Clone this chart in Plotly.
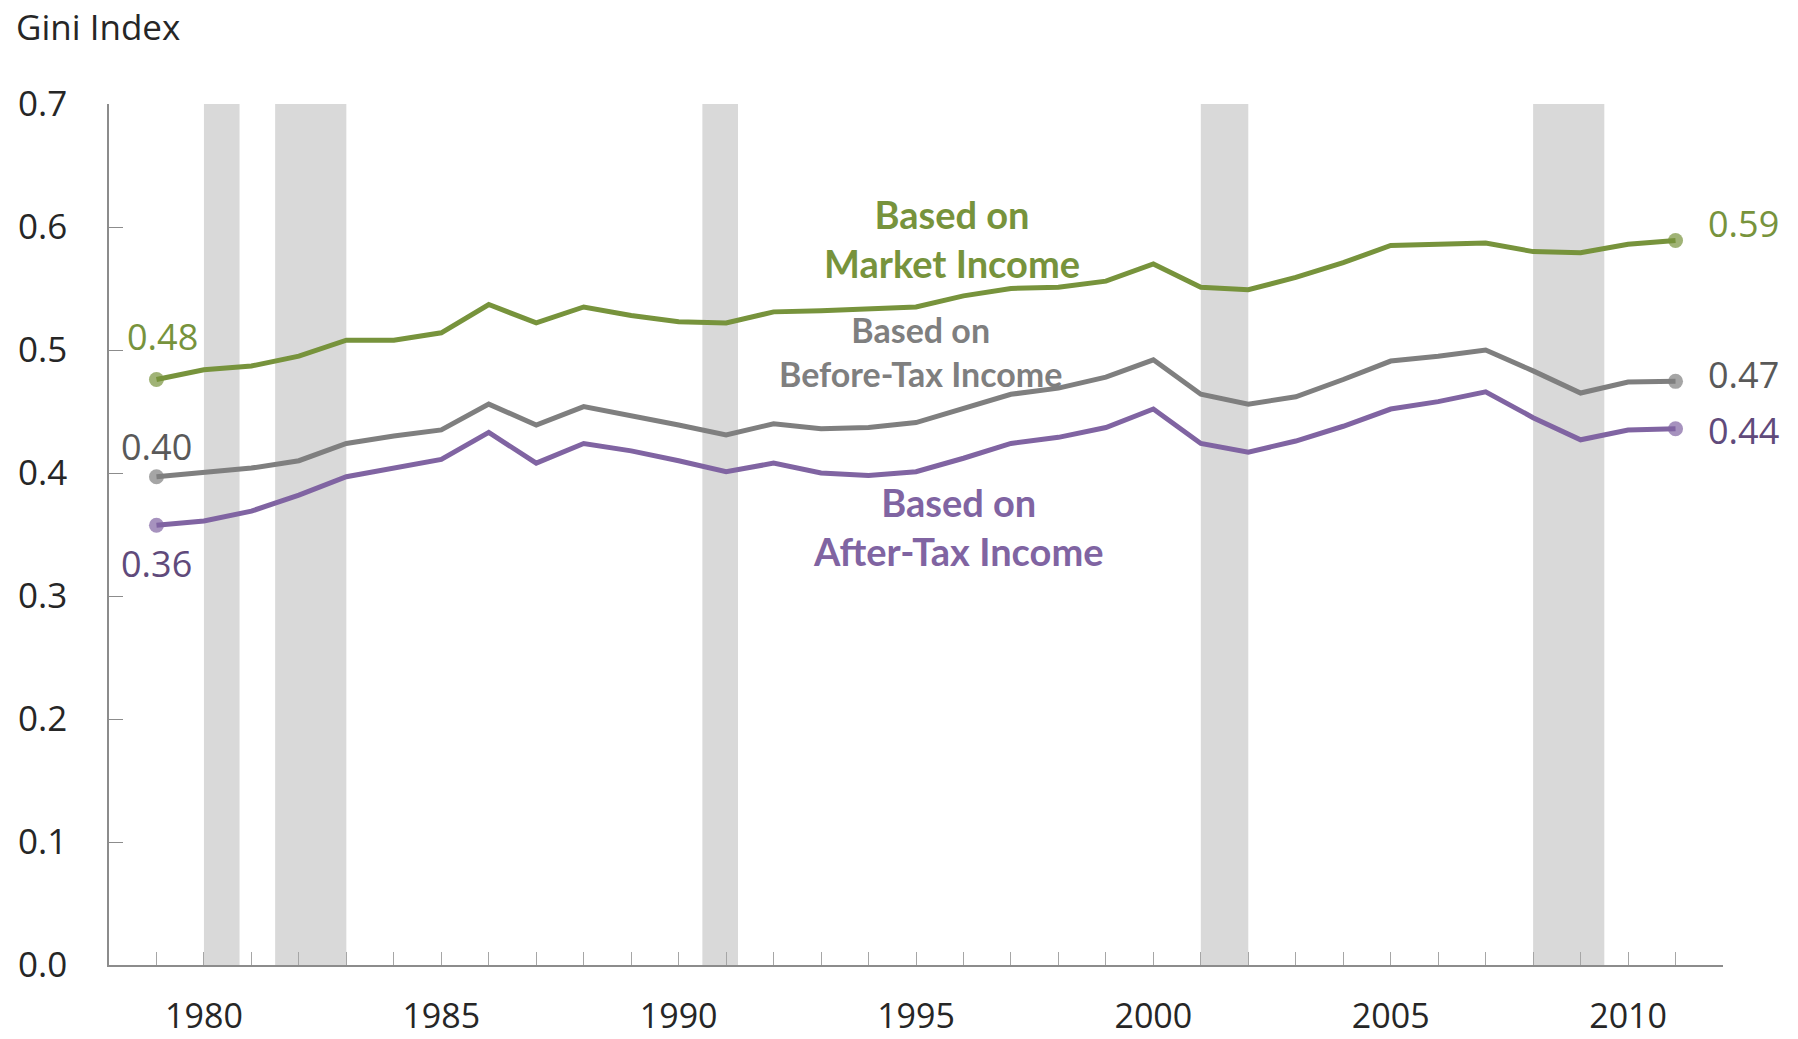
import plotly.graph_objects as go

years = list(range(1979, 2012))

market = [0.476, 0.484, 0.487, 0.495, 0.508, 0.508, 0.514, 0.537, 0.522, 0.535, 0.528, 0.523,
          0.522, 0.531, 0.532, 0.534, 0.535, 0.544, 0.550, 0.551, 0.556, 0.570,
          0.551, 0.549, 0.559, 0.571, 0.585, 0.586, 0.587, 0.580, 0.579, 0.586, 0.589]
before_tax = [0.397, 0.401, 0.404, 0.410, 0.424, 0.430, 0.435, 0.456, 0.439, 0.454, 0.447, 0.439,
              0.431, 0.440, 0.436, 0.437, 0.441, 0.453, 0.464, 0.469, 0.478, 0.492,
              0.464, 0.456, 0.462, 0.476, 0.491, 0.495, 0.500, 0.483, 0.465, 0.474, 0.4745]
after_tax = [0.3575, 0.361, 0.369, 0.382, 0.397, 0.404, 0.411, 0.433, 0.408, 0.424, 0.418, 0.410,
             0.401, 0.408, 0.400, 0.398, 0.401, 0.412, 0.424, 0.429, 0.437, 0.452,
             0.424, 0.417, 0.426, 0.438, 0.452, 0.458, 0.466, 0.445, 0.427, 0.435, 0.436]

recession_start = [1980.0, 1981.5, 1990.5, 2001.0, 2008.0]
recession_end = [1980.75, 1983.0, 1991.25, 2002.0, 2009.5]

x_tick_years = list(range(1978, 2013))
x_tick_text = [str(y) if y % 5 == 0 else "" for y in x_tick_years]
y_tick_vals = [0.0, 0.1, 0.2, 0.3, 0.4, 0.5, 0.6, 0.7]
y_tick_text = ["0.0", "0.1", "0.2", "0.3", "0.4", "0.5", "0.6", "0.7"]

GREEN = "#77933C"
GRAY = "#7F7F7F"
PURPLE = "#8064A2"
GRAY_TXT = "#595959"
PURPLE_TXT = "#604A7B"

fig = go.Figure()

for s, e in zip(recession_start, recession_end):
    fig.add_shape(type="rect", xref="x", yref="y", x0=s, x1=e, y0=0, y1=0.7,
                  fillcolor="#D9D9D9", line_width=0, layer="below")

def add_series(vals, color):
    sizes = [15] + [0] * (len(vals) - 2) + [15]
    fig.add_trace(go.Scatter(x=years, y=vals, mode="lines+markers",
                             line=dict(color=color, width=5),
                             marker=dict(color=color, size=sizes, line=dict(width=0)),
                             hoverinfo="skip", showlegend=False))

add_series(market, GREEN)
add_series(before_tax, GRAY)
add_series(after_tax, PURPLE)

NUM_FONT = "Open Sans"
LBL_FONT = "Lato"

def val_label(x, y, color, xs, ys):
    fig.add_annotation(x=x, y=y, xref="x", yref="y", text=f"{y:.2f}", showarrow=False,
                       xshift=xs, yshift=ys, font=dict(family=NUM_FONT, size=36, color=color),
                       xanchor="center", yanchor="middle")

val_label(years[0], market[0], GREEN, 6, 43)
val_label(years[0], before_tax[0], GRAY_TXT, 0, 30)
val_label(years[0], after_tax[0], PURPLE_TXT, 0, -38)
val_label(years[-1], market[-1], GREEN, 68, 17)
val_label(years[-1], before_tax[-1], GRAY_TXT, 68, 7)
val_label(years[-1], after_tax[-1], PURPLE_TXT, 68, -2)

def series_label(x, y, text, color, size):
    fig.add_annotation(x=x, y=y, xref="x", yref="y", text=f"<b>{text}</b>", showarrow=False,
                       font=dict(family=LBL_FONT, size=size, color=color),
                       xanchor="center", yanchor="middle", align="center")

series_label(1995.75, 0.5905, "Based on<br>Market Income", GREEN, 38)
series_label(1995.1, 0.4987, "Based on<br>Before-Tax Income", GRAY, 34)
series_label(1995.9, 0.3564, "Based on<br>After-Tax Income", PURPLE, 38)

# title placed with its box top just inside the figure (plot area spans 104..965.5 px)
fig.add_annotation(x=-0.0588, y=(965.5 - 1) / 861.5, xref="paper", yref="paper", text="Gini Index",
                   showarrow=False, xanchor="left", yanchor="top",
                   font=dict(family=NUM_FONT, size=35, color="#262626"))

fig.update_layout(
    template="none",
    width=1798, height=1039,
    margin=dict(l=109, r=74.5, t=104, b=73.5, autoexpand=False),
    paper_bgcolor="white", plot_bgcolor="white",
    showlegend=False,
    xaxis=dict(range=[1978, 2012], tickmode="array", tickvals=x_tick_years, ticktext=x_tick_text,
               ticks="inside", ticklen=13, tickwidth=1, tickcolor="#A6A6A6", automargin=False,
               showline=True, linecolor="#8C8C8C", linewidth=1.5, showgrid=False, zeroline=False,
               tickfont=dict(family=NUM_FONT, size=34, color="#262626"), ticklabelstandoff=20),
    yaxis=dict(range=[0, 0.7], tickmode="array", tickvals=y_tick_vals, ticktext=y_tick_text,
               ticks="inside", ticklen=14, tickwidth=1.3, tickcolor="#8C8C8C", automargin=False,
               showline=True, linecolor="#8C8C8C", linewidth=1.5, showgrid=False, zeroline=False,
               tickfont=dict(family=NUM_FONT, size=35, color="#262626"), ticklabelstandoff=33),
)

fig.write_html("out.html", config={"displayModeBar": False},
               post_script="document.body.style.margin='0';document.body.style.overflow='hidden';")
